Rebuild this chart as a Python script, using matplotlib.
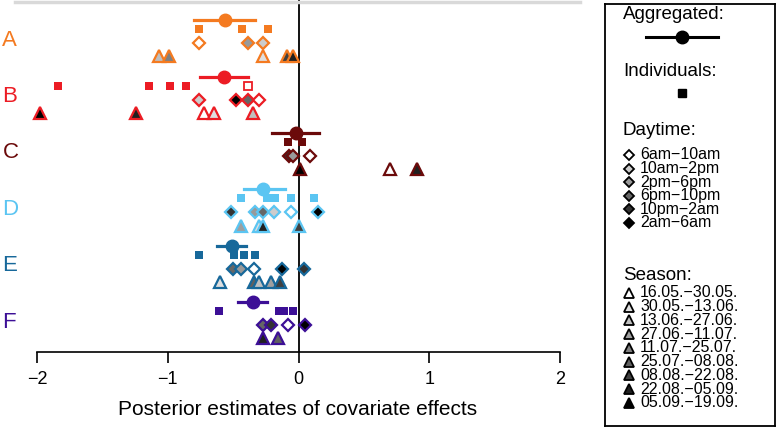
import matplotlib
matplotlib.use("Agg")
import matplotlib.pyplot as plt
from matplotlib.lines import Line2D
import numpy as np

plt.rcParams['font.family'] = ['Liberation Sans', 'DejaVu Sans']

# ---------------- data ----------------
groups = ["A", "B", "C", "D", "E", "F"]
colors = ["#F47A20", "#EC1C24", "#6B0A0A", "#5BC5F2", "#17689A", "#3C0F96"]

agg_mean = [-0.56, -0.57, -0.02, -0.27, -0.51, -0.35]
agg_lo = [-0.80, -0.75, -0.20, -0.42, -0.62, -0.46]
agg_hi = [-0.33, -0.39, 0.16, -0.10, -0.40, -0.24]

ind_vals = [
    [-0.76, -0.43, -0.23],
    [-1.84, -1.14, -0.98, -0.86],
    [-0.08, 0.03],
    [-0.44, -0.24, -0.18, -0.06, 0.12],
    [-0.76, -0.49, -0.42, -0.33],
    [-0.61, -0.15, -0.11, -0.04],
]
ind_hollow = [[], [-0.39], [], [], [], []]

day_vals = [
    [-0.76, -0.39, -0.27],
    [-0.76, -0.48, -0.39, -0.30],
    [-0.07, -0.04, 0.09],
    [-0.52, -0.33, -0.27, -0.19, -0.06, 0.15],
    [-0.50, -0.44, -0.34, -0.13, 0.04],
    [-0.27, -0.21, -0.08, 0.05],
]
day_cats = [
    [0, 2, 1],
    [1, 5, 3, 0],
    [4, 2, 0],
    [4, 2, 3, 1, 0, 5],
    [3, 2, 0, 5, 4],
    [3, 4, 0, 5],
]

season_vals = [
    [-1.07, -0.99, -0.27, -0.09, -0.04],
    [-1.98, -1.24, -0.72, -0.65, -0.35],
    [0.01, 0.70, 0.91],
    [-0.44, -0.30, -0.27, 0.00],
    [-0.60, -0.34, -0.30, -0.21, -0.14],
    [-0.27, -0.16],
]
season_cats = [
    [2, 4, 1, 6, 7],
    [8, 7, 0, 1, 2],
    [8, 0, 7],
    [3, 1, 7, 6],
    [1, 5, 2, 3, 6],
    [7, 5],
]

day_labels = ["6am\u221210am", "10am\u22122pm", "2pm\u22126pm", "6pm\u221210pm",
              "10pm\u22122am", "2am\u22126am"]
season_labels = ["16.05.\u221230.05.", "30.05.\u221213.06.", "13.06.\u221227.06.",
                 "27.06.\u221211.07.", "11.07.\u221225.07.", "25.07.\u221208.08.",
                 "08.08.\u221222.08.", "22.08.\u221205.09.", "05.09.\u221219.09."]
xticks = [-2, -1, 0, 1, 2]
xlabel = "Posterior estimates of covariate effects"

day_gray = np.linspace(1, 0, len(day_labels))
season_gray = np.linspace(1, 0, len(season_labels))

# ---------------- figure ----------------
W, H = 778, 428
fig = plt.figure(figsize=(W / 100, H / 100), dpi=100)

ax_w = 595
ppu = 130.75  # pixels per data unit
ax = fig.add_axes([0, (H - 352) / H, ax_w / W, 352 / H])
x0 = -2 - 37 / ppu
ax.set_xlim(x0, x0 + ax_w / ppu)
ax.set_ylim((352 - 40) / 56.4, -40 / 56.4)

off_agg, off_ind, off_day, off_sea = -0.35, -0.19, 0.055, 0.29

ax.axvline(0, color="black", lw=1.3, zorder=1)

for i, g in enumerate(groups):
    c = colors[i]
    ax.plot([agg_lo[i], agg_hi[i]], [i + off_agg] * 2, color=c, lw=2.3, zorder=3)
    ax.plot([agg_mean[i]], [i + off_agg], 'o', color=c, ms=9, zorder=4)
    ax.plot(ind_vals[i], [i + off_ind] * len(ind_vals[i]), 's', color=c, ms=6.3,
            mec=c, mew=0, zorder=3, linestyle='none')
    if ind_hollow[i]:
        ax.plot(ind_hollow[i], [i + off_ind] * len(ind_hollow[i]), 's', mfc='white',
                mec=c, ms=5.5, mew=1.3, linestyle='none', zorder=3)
    for x, k in zip(day_vals[i], day_cats[i]):
        gv = day_gray[k]
        ax.plot([x], [i + off_day], 'D', mfc=(gv, gv, gv), mec=c, ms=6.4, mew=1.6, zorder=3)
    for x, k in zip(season_vals[i], season_cats[i]):
        gv = season_gray[k]
        ax.plot([x], [i + off_sea], '^', mfc=(gv, gv, gv), mec=c, ms=8.5, mew=1.6, zorder=3)
    ax.text(0.004, i, g, color=c, fontsize=16, va='center', ha='left',
            transform=ax.get_yaxis_transform())

for s in ["top", "right", "left"]:
    ax.spines[s].set_visible(False)
ax.spines["bottom"].set_bounds(-2, 2)
ax.spines["bottom"].set_linewidth(1.2)
ax.set_yticks([])
ax.set_xticks(xticks)
ax.set_xticklabels([("\u2212%d" % -t) if t < 0 else str(t) for t in xticks])
ax.tick_params(axis='x', length=8, width=1.2, labelsize=13, pad=6)
ax.set_xlabel(xlabel, fontsize=15, labelpad=8)
ax.patch.set_alpha(0)

# top gray line
fig.add_artist(Line2D([15 / W, 580 / W], [1 - 1.5 / H] * 2, color="#d9d9d9", lw=2.5))

# ---------------- legend box ----------------
lg = fig.add_axes([605 / W, (H - 426) / H, 170 / W, 422 / H])
lg.set_xlim(605, 775)
lg.set_ylim(426, 4)
lg.set_xticks([])
lg.set_yticks([])
for s in lg.spines.values():
    s.set_linewidth(1.3)
    s.set_color("black")

hfs = 13.5
efs = 11.5
lg.text(623, 15, "Aggregated:", fontsize=hfs, va='center', ha='left')
lg.plot([646, 718], [37, 37], color='black', lw=2.2)
lg.plot([682], [37], 'o', color='black', ms=9)
lg.text(623, 72, "Individuals:", fontsize=hfs, va='center', ha='left')
lg.plot([682], [93], 's', color='black', ms=6)
lg.text(623, 131, "Daytime:", fontsize=hfs, va='center', ha='left')
for k, lab in enumerate(day_labels):
    y = 155 + 13.6 * k
    gv = day_gray[k]
    lg.plot([629], [y], 'D', mfc=(gv, gv, gv), mec='black', ms=5.2, mew=1.3)
    lg.text(640, y, lab, fontsize=efs, va='center', ha='left')
lg.text(623, 276, "Season:", fontsize=hfs, va='center', ha='left')
for k, lab in enumerate(season_labels):
    y = 293 + 13.75 * k
    gv = season_gray[k]
    lg.plot([629], [y], '^', mfc=(gv, gv, gv), mec='black', ms=7, mew=1.3)
    lg.text(640, y, lab, fontsize=efs, va='center', ha='left')

fig.savefig("out.png", dpi=100)
